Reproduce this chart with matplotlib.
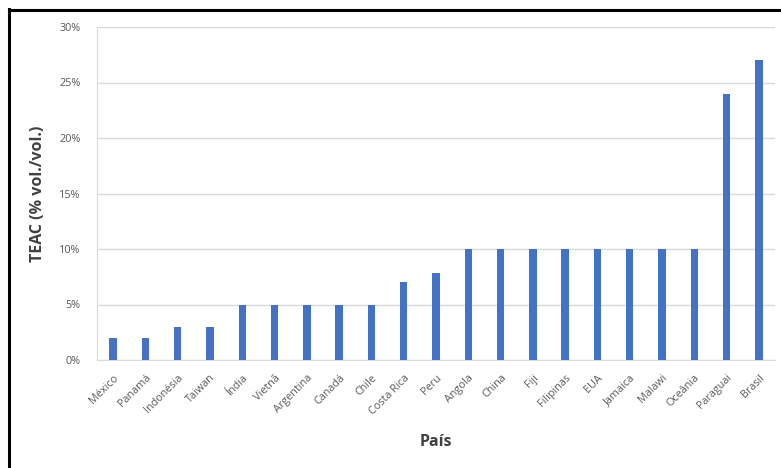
import matplotlib
matplotlib.use("Agg")
import matplotlib.pyplot as plt
from matplotlib.lines import Line2D
from matplotlib.ticker import FuncFormatter, MultipleLocator

paises = ["México", "Panamá", "Indonésia", "Taiwan", "Índia", "Vietnã",
          "Argentina", "Canadá", "Chile", "Costa Rica", "Peru", "Angola",
          "China", "Fiji", "Filipinas", "EUA", "Jamaica", "Malawi",
          "Oceânia", "Paraguai", "Brasil"]
teac = [2, 2, 3, 3, 5, 5, 5, 5, 5, 7, 7.8, 10, 10, 10, 10, 10, 10, 10, 10, 24, 27]

plt.rcParams["font.family"] = ["Open Sans", "DejaVu Sans"]

fig = plt.figure(figsize=(7.81, 4.68), dpi=100)
fig.patch.set_facecolor("white")
ax = fig.add_axes([97 / 781, 1 - 360 / 468, (775 - 97) / 781, (360 - 27) / 468])

x = range(len(paises))
ax.bar(x, teac, width=0.23, color="#4472C4", zorder=3)

ax.set_xlim(-0.5, len(paises) - 0.5)
ax.set_ylim(0, 30)
ax.yaxis.set_major_locator(MultipleLocator(5))
ax.yaxis.set_major_formatter(FuncFormatter(lambda v, p: f"{v:.0f}%"))
ax.grid(axis="y", color="#d9d9d9", linewidth=1.0, zorder=0)
ax.set_axisbelow(True)

ax.set_xticks(list(x))
ax.set_xticklabels(paises, rotation=45, ha="right", rotation_mode="anchor",
                   fontsize=7.8, color="#595959")
ax.tick_params(axis="y", labelsize=7.8, colors="#595959", length=0, pad=12)
ax.tick_params(axis="x", length=0, pad=9)

for side in ("top", "right"):
    ax.spines[side].set_visible(False)
ax.spines["left"].set_color("#d9d9d9")
ax.spines["bottom"].set_color("#d9d9d9")

ax.set_ylabel("TEAC (% vol./vol.)", fontsize=11.5, fontweight="bold", color="#404040", labelpad=9)
ax.set_xlabel("País", fontsize=11.5, fontweight="bold", color="#404040", labelpad=12)

# frame lines along the top and left edges
fig.add_artist(Line2D([9 / 781, 9 / 781], [0, 1 - 9 / 468], transform=fig.transFigure,
                      color="black", linewidth=2.2))
fig.add_artist(Line2D([9 / 781, 1], [1 - 10 / 468, 1 - 10 / 468], transform=fig.transFigure,
                      color="black", linewidth=2.2))

fig.savefig("out.png", dpi=100)
